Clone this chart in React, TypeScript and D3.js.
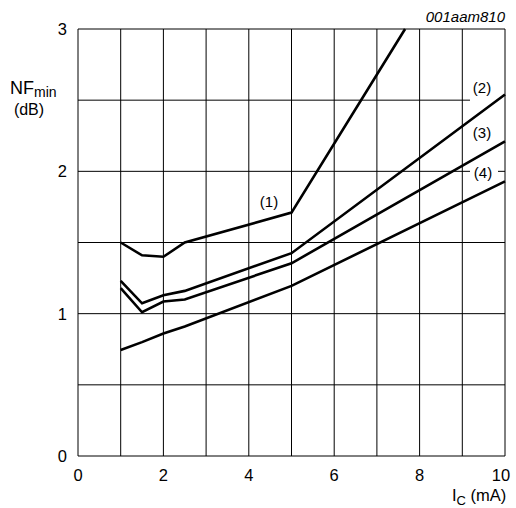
import React from "react";
import * as d3 from "d3";

const xTicks = [0, 2, 4, 6, 8, 10];
const yTicks = [0, 1, 2, 3];
const xGrid = [0, 1, 2, 3, 4, 5, 6, 7, 8, 9, 10];
const yGrid = [0, 0.5, 1, 1.5, 2, 2.5, 3];

const curve1X = [1, 1.5, 2, 2.5, 5, 7.66];
const curve1Y = [1.5, 1.41, 1.4, 1.5, 1.71, 3.0];
const curve2X = [1, 1.5, 2, 2.5, 5, 10];
const curve2Y = [1.23, 1.073, 1.13, 1.16, 1.425, 2.54];
const curve3X = [1, 1.5, 2, 2.5, 5, 10];
const curve3Y = [1.18, 1.01, 1.085, 1.1, 1.354, 2.21];
const curve4X = [1, 1.5, 2, 2.5, 5, 10];
const curve4Y = [0.745, 0.8, 0.86, 0.91, 1.195, 1.93];

const labels = ["(1)", "(2)", "(3)", "(4)"];

const W = 516, H = 508;
const left = 78, right = 505, top = 29, bottom = 456;
const font = "Liberation Sans, Arial, Helvetica, sans-serif";

export default function App() {
  const x = d3.scaleLinear().domain([0, 10]).range([left, right]);
  const y = d3.scaleLinear().domain([0, 3]).range([bottom, top]);
  const line = d3.line<[number, number]>().x(d => x(d[0])).y(d => y(d[1]));
  const series = [
    [curve1X, curve1Y],
    [curve2X, curve2Y],
    [curve3X, curve3Y],
    [curve4X, curve4Y],
  ];
  return (
    <svg width={W} height={H} style={{ position: "absolute", left: 0, top: 0 }} fontFamily={font}>
      <rect x={0} y={0} width={W} height={H} fill="#fff" />
      {xGrid.map(v => (
        <line key={"xg" + v} x1={x(v)} x2={x(v)} y1={top} y2={bottom} stroke="#000" strokeWidth={1} />
      ))}
      {yGrid.map(v => {
        if (v === 2.5) {
          return <line key={"yg" + v} x1={left} x2={470} y1={y(v)} y2={y(v)} stroke="#000" strokeWidth={1} />;
        }
        if (v === 2) {
          return (
            <g key={"yg" + v}>
              <line x1={left} x2={470} y1={y(v)} y2={y(v)} stroke="#000" strokeWidth={1} />
              <line x1={498} x2={right} y1={y(v)} y2={y(v)} stroke="#000" strokeWidth={1} />
            </g>
          );
        }
        return <line key={"yg" + v} x1={left} x2={right} y1={y(v)} y2={y(v)} stroke="#000" strokeWidth={1} />;
      })}
      {series.map(([xs, ys], i) => (
        <path key={"s" + i} d={line(xs.map((xv, j) => [xv, ys[j]]) as [number, number][]) || ""}
          fill="none" stroke="#000" strokeWidth={2.6} strokeLinejoin="miter" />
      ))}
      <text x={269} y={207} fontSize={15} textAnchor="middle">{labels[0]}</text>
      <text x={482} y={93} fontSize={15} textAnchor="middle">{labels[1]}</text>
      <text x={482} y={138} fontSize={15} textAnchor="middle">{labels[2]}</text>
      <text x={483} y={178} fontSize={15} textAnchor="middle">{labels[3]}</text>
      {xTicks.map(v => (
        <text key={"xt" + v} x={x(v) - (v === 10 ? 4 : 0)} y={481} fontSize={16.5} textAnchor="middle">{v}</text>
      ))}
      {yTicks.map(v => (
        <text key={"yt" + v} x={67} y={y(v) + 6} fontSize={16.5} textAnchor="end">{v}</text>
      ))}
      <text x={10} y={94} fontSize={18}>NF<tspan fontSize={14} dy={3}>min</tspan></text>
      <text x={29} y={115} fontSize={16} textAnchor="middle">(dB)</text>
      <text x={452} y={501} fontSize={16.5}>I<tspan fontSize={13} dy={4}>C</tspan><tspan dy={-4}> (mA)</tspan></text>
      <text x={505} y={22} fontSize={15} textAnchor="end" fontStyle="italic">001aam810</text>
    </svg>
  );
}
